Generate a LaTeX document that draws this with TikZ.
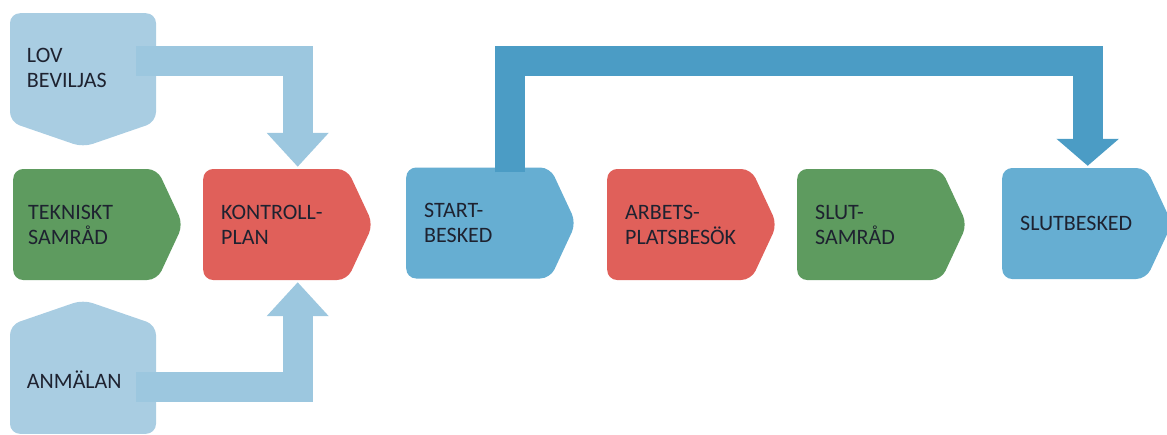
\documentclass[tikz,border=0pt]{standalone}
\usepackage{fontspec}
\setmainfont{Carlito}
\usetikzlibrary{shapes.symbols,arrows.meta}

\definecolor{stepgreen}{HTML}{5E9B5F}
\definecolor{stepred}{HTML}{E0605A}
\definecolor{stepblue}{HTML}{66AED2}
\definecolor{paleblue}{HTML}{A9CDE2}
\definecolor{palearrow}{HTML}{9CC7DF}
\definecolor{deeparrow}{HTML}{4B9CC5}
\definecolor{steptext}{HTML}{1E2230}

\begin{document}
\begin{tikzpicture}[x=1pt,y=-1pt,
    stepbox/.style ={signal, signal to=east, signal pointer angle=130,
      rounded corners=10pt, inner xsep=18pt, inner ysep=0pt,
      text width=108pt, minimum height=111pt, align=left, anchor=west,
      font=\fontsize{22}{25}\selectfont, text=steptext},
    inbox/.style ={signal, signal pointer angle=142, fill=paleblue,
      rounded corners=10pt, inner xsep=17pt, inner ysep=0pt,
      text width=112pt, minimum height=134pt, align=left,
      font=\fontsize{22}{25}\selectfont, text=steptext},
    palearrowline/.style ={draw=palearrow, line width=30pt,
      -{Triangle[width=60pt,length=34pt]}},
    deeparrowline/.style ={draw=deeparrow, line width=30pt,
      -{Triangle[width=61pt,length=27pt]}}]
   \useasboundingbox (0,0) rectangle (1167,434);
   % side inputs
   \node[inbox, signal to=south, anchor=north] (lov) at (83,13) {LOV\\BEVILJAS};
   \node[inbox, signal to=north, anchor=south] (anm) at (83,434) {ANMÄLAN};
   % process steps
   \node[stepbox, fill=stepgreen, inner xsep=15pt, text width=114pt] (tek) at (13,224.5) {TEKNISKT\\SAMRÅD};
   \node[stepbox, fill=stepred]   (kon)    at (203,224.5)  {KONTROLL-\\PLAN};
   \node[stepbox, fill=stepblue]  (start)  at (406,223)    {START-\\BESKED};
   \node[stepbox, fill=stepred]   (arb)    at (607,224.5)  {ARBETS-\\PLATSBESÖK};
   \node[stepbox, fill=stepgreen] (slut)   at (797,224.5)  {SLUT-\\SAMRÅD};
   \node[stepbox, fill=stepblue]  (slutb)  at (1002,223.5) {SLUTBESKED};
   % arrows
   \draw[palearrowline] ([xshift=-20pt,yshift=7pt]lov.east) -| ([xshift=22.5pt,yshift=2pt]kon.north);
   \draw[palearrowline] ([xshift=-20pt,yshift=-8pt]anm.east) -| ([xshift=22.5pt,yshift=-2pt]kon.south);
   \draw[deeparrowline] ([xshift=32pt,yshift=-5pt]start.north) -- ++(0,-111.5)
     -| ([xshift=13.5pt,yshift=2pt]slutb.north);
\end{tikzpicture}
\end{document}
